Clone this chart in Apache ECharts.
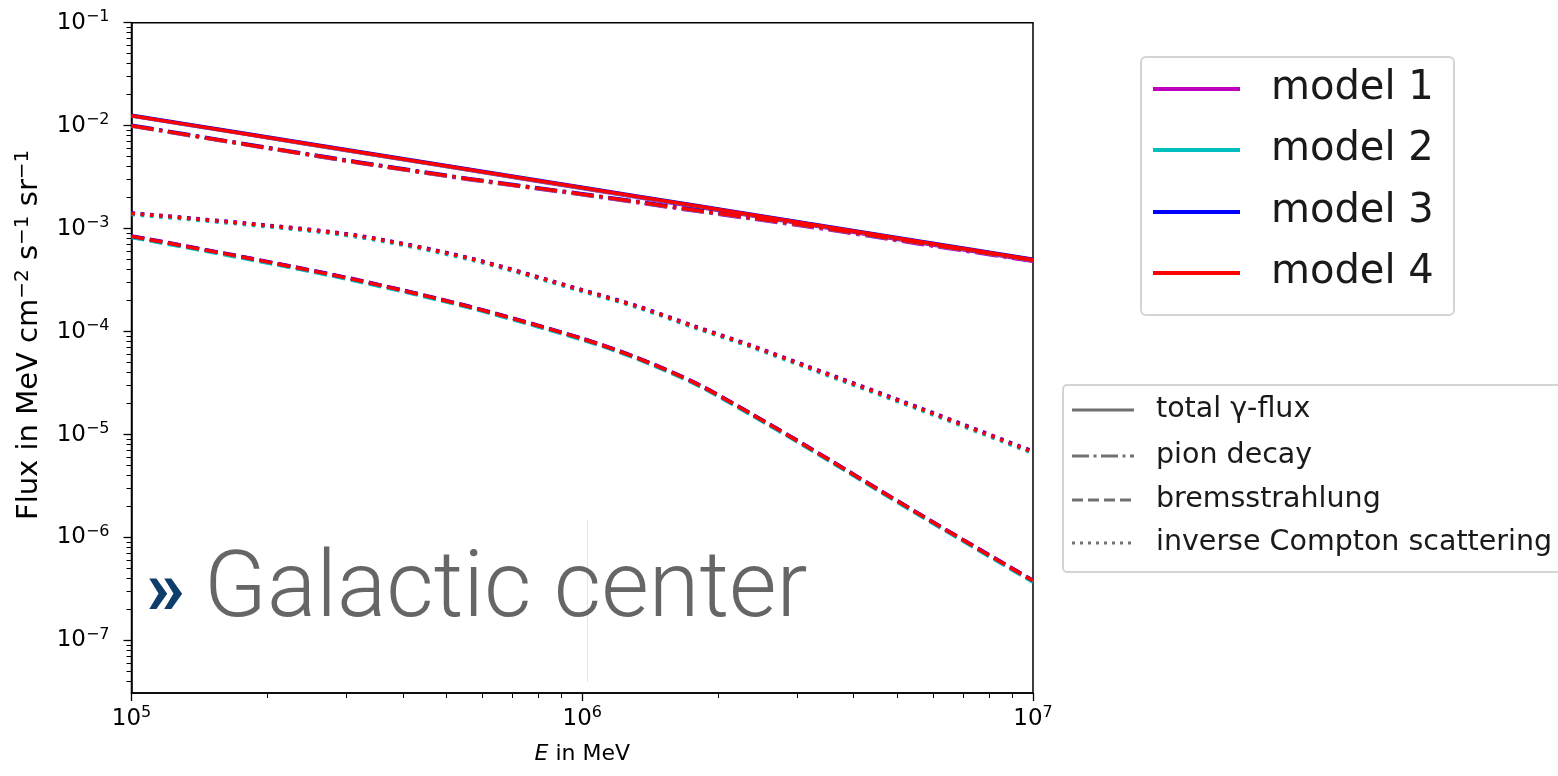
<!DOCTYPE html>
<html>
<head>
<meta charset="utf-8">
<script src="https://cdn.jsdelivr.net/npm/echarts@6/dist/echarts.min.js"></script>
<style>
html,body{margin:0;padding:0;background:#fff;}
#chart{width:1558px;height:776px;}
</style>
</head>
<body>
<div id="chart"></div>
<script>
// ---------------- DATA ----------------
const energies = [1.0e5, 1.78e5, 3.16e5, 5.62e5, 1.0e6, 1.33e6, 1.78e6, 2.37e6, 3.16e6, 5.62e6, 1.0e7];

const modelNames = ['model 1', 'model 2', 'model 3', 'model 4'];
const componentNames = ['total \u03b3-flux', 'pion decay', 'bremsstrahlung', 'inverse Compton scattering'];

// model 1
const m1Total = [1.24e-2, 8.28e-3, 5.52e-3, 3.68e-3, 2.45e-3, 2.00e-3, 1.63e-3, 1.335e-3, 1.088e-3, 7.26e-4, 4.84e-4];
const m1Pion  = [9.92e-3, 6.55e-3, 4.37e-3, 2.99e-3, 2.13e-3, 1.78e-3, 1.48e-3, 1.245e-3, 1.045e-3, 7.06e-4, 4.81e-4];
const m1Brems = [8.5e-4, 5.31e-4, 3.2e-4, 1.76e-4, 8.6e-5, 5.56e-5, 3.2e-5, 1.6e-5, 7.68e-6, 1.68e-6, 3.85e-7];
const m1IC    = [1.42e-3, 1.135e-3, 8.62e-4, 5.2e-4, 2.55e-4, 1.77e-4, 1.13e-4, 7.38e-5, 4.63e-5, 1.82e-5, 6.9e-6];
// model 2
const m2Total = [1.245e-2, 8.32e-3, 5.55e-3, 3.71e-3, 2.475e-3, 2.03e-3, 1.655e-3, 1.355e-3, 1.106e-3, 7.4e-4, 4.95e-4];
const m2Pion  = [9.97e-3, 6.59e-3, 4.41e-3, 3.02e-3, 2.15e-3, 1.80e-3, 1.50e-3, 1.262e-3, 1.06e-3, 7.19e-4, 4.91e-4];
const m2Brems = [8.2e-4, 5.12e-4, 3.08e-4, 1.70e-4, 8.3e-5, 5.36e-5, 3.08e-5, 1.545e-5, 7.4e-6, 1.62e-6, 3.68e-7];
const m2IC    = [1.37e-3, 1.095e-3, 8.3e-4, 5.0e-4, 2.45e-4, 1.70e-4, 1.082e-4, 7.06e-5, 4.42e-5, 1.73e-5, 6.55e-6];
// model 3
const m3Total = [1.262e-2, 8.45e-3, 5.64e-3, 3.77e-3, 2.52e-3, 2.065e-3, 1.687e-3, 1.382e-3, 1.128e-3, 7.55e-4, 5.05e-4];
const m3Pion  = [1.01e-2, 6.68e-3, 4.47e-3, 3.06e-3, 2.18e-3, 1.83e-3, 1.525e-3, 1.283e-3, 1.078e-3, 7.31e-4, 5.0e-4];
const m3Brems = [8.45e-4, 5.28e-4, 3.18e-4, 1.75e-4, 8.56e-5, 5.53e-5, 3.18e-5, 1.595e-5, 7.63e-6, 1.67e-6, 3.82e-7];
const m3IC    = [1.415e-3, 1.13e-3, 8.58e-4, 5.17e-4, 2.53e-4, 1.755e-4, 1.118e-4, 7.3e-5, 4.58e-5, 1.80e-5, 6.82e-6];
// model 4
const m4Total = [1.250e-2, 8.36e-3, 5.58e-3, 3.73e-3, 2.49e-3, 2.04e-3, 1.667e-3, 1.365e-3, 1.114e-3, 7.45e-4, 4.98e-4];
const m4Pion  = [1.0e-2, 6.61e-3, 4.42e-3, 3.03e-3, 2.16e-3, 1.81e-3, 1.51e-3, 1.27e-3, 1.067e-3, 7.23e-4, 4.94e-4];
const m4Brems = [8.41e-4, 5.25e-4, 3.16e-4, 1.74e-4, 8.51e-5, 5.50e-5, 3.16e-5, 1.585e-5, 7.59e-6, 1.66e-6, 3.80e-7];
const m4IC    = [1.406e-3, 1.122e-3, 8.51e-4, 5.13e-4, 2.51e-4, 1.74e-4, 1.109e-4, 7.24e-5, 4.54e-5, 1.78e-5, 6.76e-6];

const xTickExponents = [5, 6, 7];
const yTickExponents = [-7, -6, -5, -4, -3, -2, -1];

// ---------------- STYLE ----------------
const modelColors = ['#bf00bf', '#00bfbf', '#0000ff', '#ff0000'];
const LW = 3.5;
const dashes = {
  total: null,
  pion: [22.4, 5.6, 3.5, 5.6],
  brems: [13, 5.6],
  ic: [3.5, 5.8]
};
const FONT = 'DejaVu Sans';

const modelData = [
  {total: m1Total, pion: m1Pion, brems: m1Brems, ic: m1IC},
  {total: m2Total, pion: m2Pion, brems: m2Brems, ic: m2IC},
  {total: m3Total, pion: m3Pion, brems: m3Brems, ic: m3IC},
  {total: m4Total, pion: m4Pion, brems: m4Brems, ic: m4IC}
];

function toLog(vals) {
  return energies.map((e, i) => [Math.log10(e), Math.log10(vals[i])]);
}

const series = [];
modelData.forEach((md, mi) => {
  ['total', 'pion', 'brems', 'ic'].forEach((key) => {
    series.push({
      type: 'line',
      name: modelNames[mi],
      data: toLog(md[key]),
      showSymbol: false,
      smooth: 0.3,
      silent: true,
      xAxisIndex: 0,
      yAxisIndex: 0,
      lineStyle: {
        color: modelColors[mi],
        width: LW,
        type: dashes[key] ? dashes[key] : 'solid',
        cap: 'butt'
      }
    });
  });
});

// minor tick positions (log-decade subdivisions)
const minorX = [];
for (let n = 5; n < 7; n++) for (let k = 2; k <= 9; k++) minorX.push(n + Math.log10(k));
const minorY = [];
for (let n = -8; n < -1; n++) for (let k = 2; k <= 9; k++) {
  const v = n + Math.log10(k);
  if (v > -7.51 && v < -1) minorY.push(v);
}

const supRich = {
  b: {fontSize: 23, fontFamily: FONT, color: '#000', lineHeight: 28},
  s: {fontSize: 16, fontFamily: FONT, color: '#000', verticalAlign: 'top', lineHeight: 28}
};
function powLabel(v) {
  const e = Math.round(v);
  const es = e < 0 ? '\u2212' + (-e) : String(e);
  return '{b|10}{s|' + es + '}';
}

const Y_MIN = -7.51, Y_MAX = -1;

const option = {
  animation: false,
  backgroundColor: '#fff',
  grid: {
    left: 131.5, right: 525, top: 22.7, bottom: 83,
    outerBoundsMode: 'none', containLabel: false,
    show: true, borderColor: '#000', borderWidth: 1.5, backgroundColor: 'transparent'
  },
  xAxis: [
    {
      type: 'value', min: 5, max: 7, position: 'bottom',
      axisLine: {show: true, lineStyle: {color: '#000', width: 1.5}},
      splitLine: {show: false},
      axisTick: {show: true, customValues: xTickExponents, length: 8, lineStyle: {color: '#000', width: 1.3}},
      axisLabel: {customValues: xTickExponents, formatter: powLabel, rich: supRich, margin: 12},
      name: '{i|E} in MeV',
      nameLocation: 'middle',
      nameGap: 50,
      nameTextStyle: {fontSize: 22, fontFamily: FONT, color: '#000',
        rich: {i: {fontStyle: 'italic', fontSize: 22, fontFamily: FONT, color: '#000'}}}
    },
    {
      type: 'value', min: 5, max: 7, position: 'bottom', offset: 0,
      axisLine: {show: false},
      splitLine: {show: false},
      axisTick: {show: true, customValues: minorX, length: 5, lineStyle: {color: '#000', width: 1}},
      axisLabel: {show: false}
    }
  ],
  yAxis: [
    {
      type: 'value', min: Y_MIN, max: Y_MAX, position: 'left',
      axisLine: {show: true, lineStyle: {color: '#000', width: 1.5}},
      splitLine: {show: false},
      axisTick: {show: true, customValues: yTickExponents, length: 8, lineStyle: {color: '#000', width: 1.3}},
      axisLabel: {customValues: yTickExponents, formatter: powLabel, rich: supRich, margin: 22},
      name: 'Flux in MeV cm{s|\u22122} s{s|\u22121} sr{s|\u22121}',
      nameLocation: 'middle',
      nameRotate: 90,
      nameGap: 85,
      nameTextStyle: {fontSize: 29, fontFamily: FONT, color: '#000', padding: [0, 0, 0, 46],
        rich: {s: {fontSize: 20, fontFamily: FONT, color: '#000', verticalAlign: 'top', lineHeight: 34}}}
    },
    {
      type: 'value', min: Y_MIN, max: Y_MAX, position: 'left', offset: 0,
      axisLine: {show: false},
      splitLine: {show: false},
      axisTick: {show: true, customValues: minorY, length: 5, lineStyle: {color: '#000', width: 1}},
      axisLabel: {show: false}
    }
  ],
  series: series,
  graphic: []
};

// ---- legend: models ----
const g = option.graphic;
g.push({type: 'rect', shape: {x: 1141, y: 57, width: 313, height: 258, r: 5},
  style: {fill: 'rgba(255,255,255,0.9)', stroke: '#d4d4d4', lineWidth: 2}, z: 10});
const legYs = [89, 150, 212, 273];
modelNames.forEach((nm, i) => {
  g.push({type: 'line', shape: {x1: 1153, y1: legYs[i], x2: 1240, y2: legYs[i]},
    style: {stroke: modelColors[i], lineWidth: 4}, z: 11});
  g.push({type: 'text', x: 1271, y: legYs[i],
    style: {text: nm, font: '40px "DejaVu Sans"', fill: '#1a1a1a', verticalAlign: 'middle', align: 'left'}, z: 11});
});

// ---- legend: components ----
g.push({type: 'rect', shape: {x: 1063, y: 385, width: 520, height: 187, r: 4},
  style: {fill: 'rgba(255,255,255,0.9)', stroke: '#d4d4d4', lineWidth: 2}, z: 10});
const compYs = [410, 456, 500, 543];
const compDash = [null, [17, 4.5, 3, 4.5], [11, 5], [3, 5]];
componentNames.forEach((nm, i) => {
  g.push({type: 'line', shape: {x1: 1072, y1: compYs[i], x2: 1134, y2: compYs[i]},
    style: {stroke: '#707070', lineWidth: 3, lineDash: compDash[i] || null}, z: 11});
  g.push({type: 'text', x: 1156, y: compYs[i],
    style: {text: nm, font: '28.5px "DejaVu Sans"', fill: '#1a1a1a', verticalAlign: 'middle', align: 'left'}, z: 11});
});

// ---- overlay title ----
g.push({type: 'line', shape: {x1: 587.5, y1: 520, x2: 587.5, y2: 682},
  style: {stroke: '#e4e4e4', lineWidth: 1}, z: 5});
g.push({type: 'text', x: 146, y: 594,
  style: {text: '\u00bb', font: 'bold 78px Roboto', fill: '#0f3d6b', verticalAlign: 'middle', align: 'left'}, z: 12});
g.push({type: 'text', x: 204, y: 593,
  style: {text: 'Galactic center', font: '300 92px Roboto', fill: '#666666', verticalAlign: 'middle', align: 'left'}, z: 12});

const chart = echarts.init(document.getElementById('chart'), null, {renderer: 'canvas'});
chart.setOption(option);
</script>
</body>
</html>
